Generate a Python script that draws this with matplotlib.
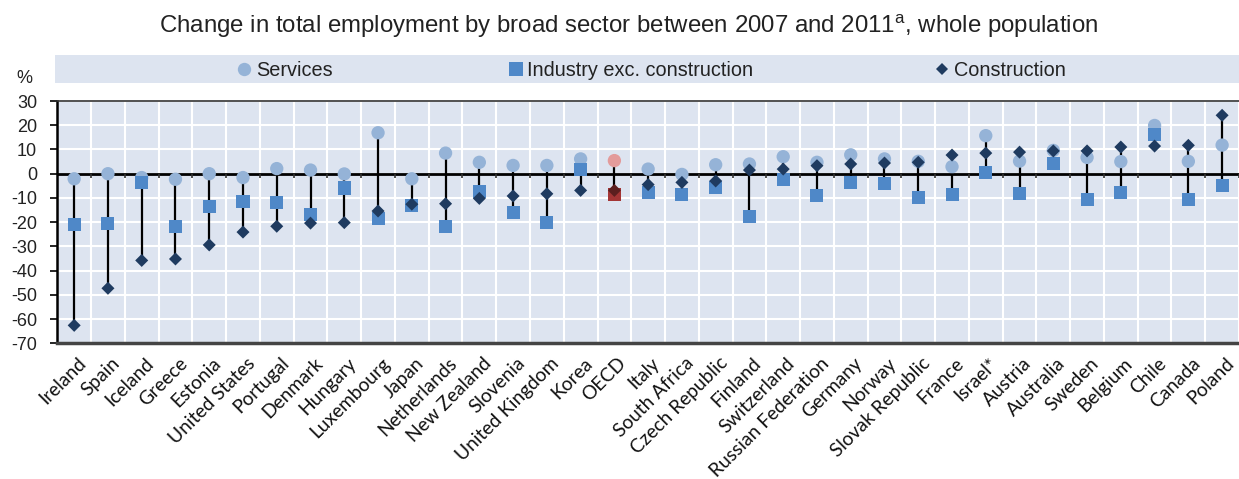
import matplotlib
matplotlib.use("Agg")
import matplotlib.pyplot as plt
from matplotlib.lines import Line2D
from matplotlib.patches import Rectangle
from matplotlib.transforms import ScaledTranslation
import numpy as np

countries = ["Ireland", "Spain", "Iceland", "Greece", "Estonia", "United States",
             "Portugal", "Denmark", "Hungary", "Luxembourg", "Japan", "Netherlands",
             "New Zealand", "Slovenia", "United Kingdom", "Korea", "OECD", "Italy",
             "South Africa", "Czech Republic", "Finland", "Switzerland",
             "Russian Federation", "Germany", "Norway", "Slovak Republic", "France",
             "Israel*", "Austria", "Australia", "Sweden", "Belgium", "Chile",
             "Canada", "Poland"]
services = [-2.1, 0.0, -1.6, -2.3, 0.0, -1.6, 2.1, 1.5, -0.1, 16.9, -2.1, 8.5,
            4.7, 3.4, 3.4, 6.1, 5.4, 1.9, -0.3, 3.7, 4.0, 7.0, 4.7, 7.8, 6.1,
            5.1, 2.9, 15.7, 5.2, 9.6, 6.7, 5.0, 19.9, 5.1, 11.8]
industry = [-20.9, -20.6, -3.6, -21.9, -13.5, -11.3, -11.7, -16.9, -5.9, -18.4,
            -13.1, -21.6, -7.4, -16.2, -20.2, 1.9, -8.7, -7.6, -8.4, -5.6, -17.5,
            -2.3, -9.1, -3.6, -3.9, -9.8, -8.5, 0.3, -8.1, 4.3, -10.6, -7.8, 16.0,
            -10.6, -4.8]
construction = [-62.6, -47.3, -35.8, -35.2, -29.4, -24.1, -21.7, -20.4, -20.2,
                -15.4, -12.6, -12.4, -10.2, -9.2, -8.3, -6.9, -6.9, -4.5, -3.6,
                -3.0, 1.5, 1.9, 3.3, 4.0, 4.4, 4.7, 7.7, 8.5, 8.9, 9.4, 9.4, 11.0,
                11.4, 11.7, 24.1]
highlight = "OECD"
series_names = ["Services", "Industry exc. construction", "Construction"]
y_ticks = [30, 20, 10, 0, -10, -20, -30, -40, -50, -60, -70]

plt.rcParams['mathtext.fontset'] = 'custom'
plt.rcParams['mathtext.rm'] = 'Liberation Sans'
plt.rcParams['mathtext.it'] = 'Liberation Sans'

W, H = 1239, 479
fig = plt.figure(figsize=(W / 100, H / 100), dpi=100)


def fx(px):
    return px / W


def fy(py):
    return 1 - py / H


left, right = 57.3, 1239
top, bottom = 101, 343.3
catw = 34.1
ax = fig.add_axes([fx(left), fy(bottom), fx(right - left), (bottom - top) / H])

bg = '#dde4f0'
ax.set_facecolor(bg)
n = len(countries)
x = np.arange(n)
ax.set_xlim(-0.5, -0.5 + (right - left) / catw)
ax.set_ylim(-70, 30)

# grid
ax.set_yticks(y_ticks)
ax.set_yticklabels([str(v) for v in y_ticks], fontsize=13, family='Liberation Sans', color='#222')
bounds = np.arange(n) + 0.5
ax.set_xticks(bounds, minor=True)
ax.grid(axis='y', which='major', color='white', lw=1.5, zorder=0)
ax.grid(axis='x', which='minor', color='white', lw=1.5, zorder=0)
ax.set_axisbelow(True)

# zero line and small ticks
ax.axhline(0, color='black', lw=2.0, zorder=2)
ax.vlines(bounds, -1.7, 0, color='#333333', lw=1.2, zorder=2)

# stems
s_arr = np.array(services)
i_arr = np.array(industry)
c_arr = np.array(construction)
lo = np.minimum(np.minimum(s_arr, i_arr), c_arr)
hi = np.maximum(np.maximum(s_arr, i_arr), c_arr)
ax.vlines(x, lo, hi, color='black', lw=1.6, zorder=3)

is_hl = np.array([c == highlight for c in countries])
col_s = np.where(is_hl, '#e39b9b', '#95b3d7')
col_i = np.where(is_hl, '#a33535', '#4f88c8')
col_c = np.where(is_hl, '#5c1f1f', '#1f3b60')

ax.scatter(x, s_arr, s=92, marker='o', c=list(col_s), linewidths=0, zorder=4)
ax.scatter(x, i_arr, s=88, marker='s', c=list(col_i), linewidths=0, zorder=5)
ax.scatter(x, c_arr, s=44, marker='D', c=list(col_c), linewidths=0, zorder=6)

# x labels
ax.set_xticks(x)
ax.set_xticklabels(countries, rotation=45, ha='right', va='top',
                   rotation_mode='anchor', fontsize=13.8, family='Lato', color='#111')
ax.tick_params(axis='x', which='both', length=0, pad=8)
offset = ScaledTranslation(3 / 100, 0, fig.dpi_scale_trans)
for lbl in ax.get_xticklabels():
    lbl.set_transform(lbl.get_transform() + offset)
ax.tick_params(axis='y', length=5, width=1.2, color='black', direction='out', pad=9.5)

for sp in ['right']:
    ax.spines[sp].set_visible(False)
ax.spines['left'].set_color('black')
ax.spines['left'].set_linewidth(1.8)
ax.spines['bottom'].set_color('#444444')
ax.spines['bottom'].set_linewidth(2.5)
ax.spines['top'].set_color('#333333')
ax.spines['top'].set_linewidth(1.2)

# title
fig.text(fx(629), fy(33.3),
         "Change in total employment by broad sector between 2007 and 2011$^{\\mathrm{a}}$, whole population",
         ha='center', va='baseline', fontsize=17.3, family='Liberation Sans', color='#222')

# percent sign
fig.text(fx(24.2), fy(83), "%", ha='center', va='baseline', fontsize=13,
         family='Liberation Sans', color='#222')

# legend band
fig.add_artist(Rectangle((fx(55), fy(82.7)), fx(1239 - 55), (82.7 - 55) / H,
                         transform=fig.transFigure, facecolor=bg, edgecolor='none'))
leg_items = [(243.5, 'o', 9.6, '#95b3d7', 256),
             (515.7, 's', 9.4, '#4f88c8', 527),
             (942, 'D', 6.6, '#1f3b60', 954)]
for (mx, mk, ms, mc, tx), name in zip(leg_items, series_names):
    fig.add_artist(Line2D([fx(mx)], [fy(68.5)], marker=mk, markersize=ms, color=mc,
                          markeredgewidth=0, linestyle='none', transform=fig.transFigure))
    fig.text(fx(tx), fy(76), name, ha='left', va='baseline', fontsize=14.3,
             family=['Liberation Sans Narrow', 'Liberation Sans'], color='#222')

fig.savefig("out.png", dpi=100)
